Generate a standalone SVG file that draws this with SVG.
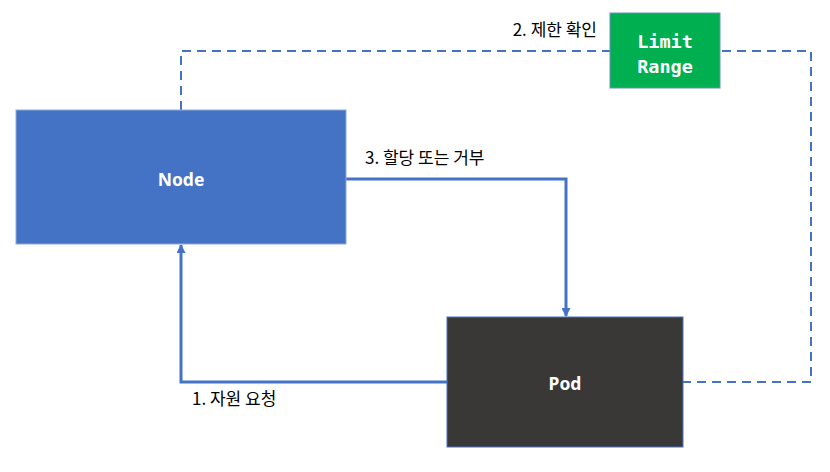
<svg xmlns="http://www.w3.org/2000/svg" width="830" height="472" viewBox="0 0 830 472">
<style>
.lbl{font-family:"Noto Sans CJK KR","Noto Sans",sans-serif;font-size:17px;fill:#000}
.nt{font-family:"Noto Sans","Noto Sans CJK KR",sans-serif;font-size:17.5px;font-weight:bold;fill:#fff;text-anchor:middle}
.mono{font-family:"DejaVu Sans Mono","Liberation Mono",monospace;font-size:18.5px;font-weight:bold;fill:#fff;text-anchor:middle}
.ln{fill:none;stroke:#4472C4;stroke-width:3}
.dash{fill:none;stroke:#4472C4;stroke-width:2;stroke-dasharray:9 6}
</style>
<defs>
<marker id="ah" markerWidth="9" markerHeight="9" refX="8" refY="4.5" orient="auto" markerUnits="userSpaceOnUse">
<path d="M0,0 L9,4.5 L0,9 Z" fill="#4472C4"/>
</marker>
</defs>
<rect width="830" height="472" fill="#fff"/>
<g id="connectors">
<path class="dash" d="M181,110 V51 H811 V382 H683"/>
<path class="ln" d="M346,179 H566 V316" marker-end="url(#ah)"/>
<path class="ln" d="M447,382 H181 V245" marker-end="url(#ah)"/>
</g>
<g id="node">
<rect x="16" y="110" width="330" height="134" fill="#4472C4" stroke="#8FAADC" stroke-width="1"/>
<text class="nt" x="181" y="186">Node</text>
</g>
<g id="pod">
<rect x="447" y="317" width="236" height="130" fill="#3A3836" stroke="#4472C4" stroke-width="1"/>
<text class="nt" x="565" y="390">Pod</text>
</g>
<g id="limitrange">
<rect x="610" y="13" width="110" height="75" fill="#00B050" stroke="#6C8EBF" stroke-width="1"/>
<text class="mono" x="665" y="48">Limit</text>
<text class="mono" x="665" y="73">Range</text>
</g>
<g id="labels">
<text class="lbl" x="597" y="36" text-anchor="end">2. 제한 확인</text>
<text class="lbl" x="365" y="164">3. 할당 또는 거부</text>
<text class="lbl" x="192" y="405">1. 자원 요청</text>
</g>
</svg>
